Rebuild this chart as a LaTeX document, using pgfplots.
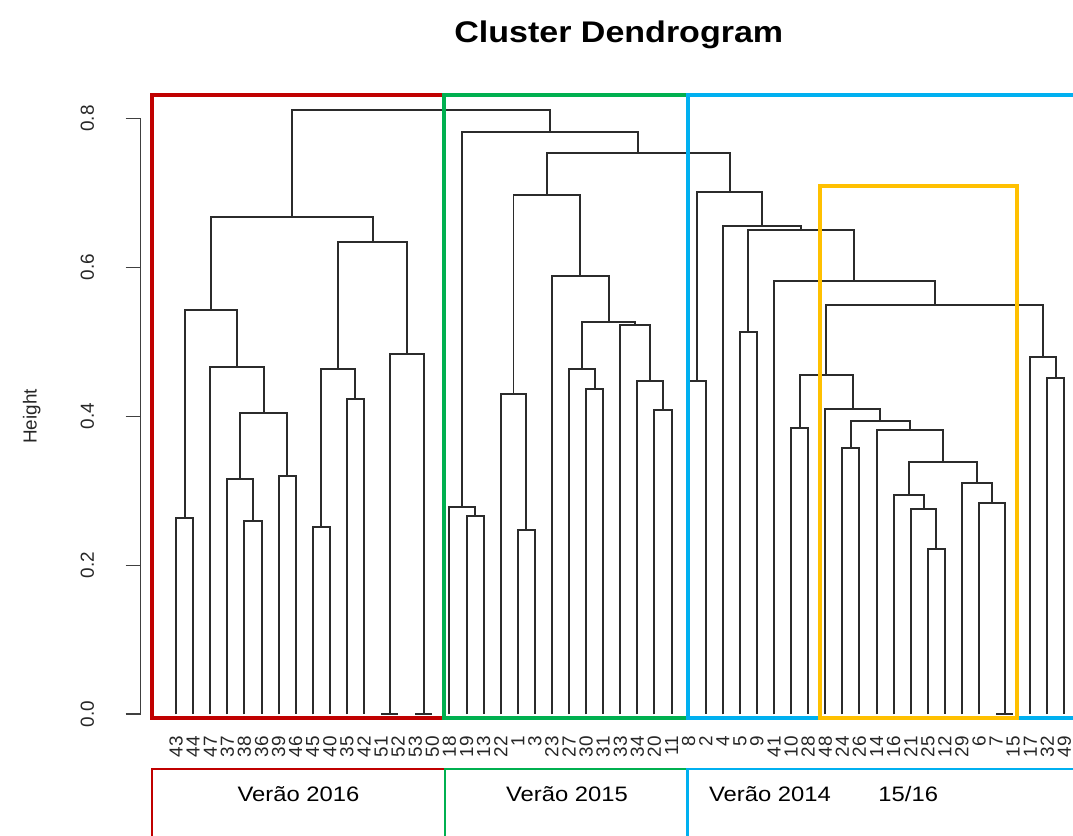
\documentclass[border=0pt]{standalone}
\usepackage{fontspec}
\setmainfont{Liberation Sans}
\newfontfamily\widefont{Liberation Sans}[FakeStretch=1.14]
\usepackage{pgfplots}
\pgfplotsset{compat=1.18}
\usepackage{pgfplotstable}
\definecolor{cred}{HTML}{C00000}
\definecolor{cgreen}{HTML}{00B050}
\definecolor{cblue}{HTML}{00B0F0}
\definecolor{cyellow}{HTML}{FFC000}
\definecolor{tree}{HTML}{2B2B2B}

% merges of the "Verao 2016" cluster (each: 4 corner points, nan = break)
\pgfplotstableread{
x y
1 0
1 0.264
2 0.264
2 0
nan nan
5 0
5 0.259
6 0.259
6 0
nan nan
4 0
4 0.316
5.5 0.316
5.5 0.259
nan nan
7 0
7 0.320
8 0.320
8 0
nan nan
4.75 0.316
4.75 0.405
7.5 0.405
7.5 0.320
nan nan
3 0
3 0.466
6.125 0.466
6.125 0.405
nan nan
1.5 0.264
1.5 0.543
4.5625 0.543
4.5625 0.466
nan nan
9 0
9 0.252
10 0.252
10 0
nan nan
11 0
11 0.423
12 0.423
12 0
nan nan
9.5 0.252
9.5 0.463
11.5 0.463
11.5 0.423
nan nan
13 0
14 0
nan nan
15 0
16 0
nan nan
13.5 0
13.5 0.484
15.5 0.484
15.5 0
nan nan
10.5 0.463
10.5 0.634
14.5 0.634
14.5 0.484
nan nan
3.03125 0.543
3.03125 0.667
12.5 0.667
12.5 0.634
}\redtree

\pgfplotstableread{
x y
18 0
18 0.266
19 0.266
19 0
nan nan
17 0
17 0.278
18.5 0.278
18.5 0.266
nan nan
21 0
21 0.247
22 0.247
22 0
nan nan
20 0
20 0.430
21.5 0.430
21.5 0.247
nan nan
25 0
25 0.437
26 0.437
26 0
nan nan
24 0
24 0.463
25.5 0.463
25.5 0.437
nan nan
29 0
29 0.408
30 0.408
30 0
nan nan
28 0
28 0.448
29.5 0.448
29.5 0.408
nan nan
27 0
27 0.523
28.75 0.523
28.75 0.448
nan nan
24.75 0.463
24.75 0.527
27.875 0.527
27.875 0.523
nan nan
23 0
23 0.589
26.3125 0.589
26.3125 0.527
nan nan
20.75 0.430
20.75 0.697
24.65625 0.697
24.65625 0.589
}\greentree

\pgfplotstableread{
x y
31 0
31 0.448
32 0.448
32 0
nan nan
34 0
34 0.513
35 0.513
35 0
nan nan
37 0
37 0.385
38 0.385
38 0
nan nan
40 0
40 0.358
41 0.358
41 0
nan nan
45 0
45 0.222
46 0.222
46 0
nan nan
44 0
44 0.276
45.5 0.276
45.5 0.222
nan nan
43 0
43 0.295
44.75 0.295
44.75 0.276
nan nan
49 0
50 0
nan nan
48 0
48 0.283
49.5 0.283
49.5 0
nan nan
47 0
47 0.310
48.75 0.310
48.75 0.283
nan nan
43.875 0.295
43.875 0.339
47.875 0.339
47.875 0.310
nan nan
42 0
42 0.382
45.875 0.382
45.875 0.339
nan nan
40.5 0.358
40.5 0.394
43.9375 0.394
43.9375 0.382
nan nan
39 0
39 0.410
42.21875 0.410
42.21875 0.394
nan nan
37.5 0.385
37.5 0.456
40.609375 0.456
40.609375 0.410
nan nan
52 0
52 0.452
53 0.452
53 0
nan nan
51 0
51 0.479
52.5 0.479
52.5 0.452
nan nan
39.0546875 0.456
39.0546875 0.550
51.75 0.550
51.75 0.479
nan nan
36 0
36 0.582
45.40234375 0.582
45.40234375 0.550
nan nan
34.5 0.513
34.5 0.650
40.701171875 0.650
40.701171875 0.582
nan nan
33 0
33 0.656
37.6005859375 0.656
37.6005859375 0.650
nan nan
31.5 0.448
31.5 0.7016
35.30029296875 0.7016
35.30029296875 0.656
}\bluetree

\pgfplotstableread{
x y
22.703125 0.697
22.703125 0.753
33.400146484375 0.753
33.400146484375 0.7016
nan nan
17.75 0.278
17.75 0.782
28.0516357421875 0.782
28.0516357421875 0.753
nan nan
7.765625 0.667
7.765625 0.811
22.90081787109375 0.811
22.90081787109375 0.782
}\toptree

\begin{document}
\begin{tikzpicture}
\begin{axis}[
  scale only axis,
  width=465.85pt, height=299.5pt,
  xmin=-1.079, xmax=53.175, ymin=0, ymax=0.8,
  clip=false,
  axis y line*=left, axis x line*=bottom,
  x axis line style={draw=none},
  y axis line style={line width=0.8pt, black!75},
  xtick={1,...,53},
  xticklabels={43,44,47,37,38,36,39,46,45,40,35,42,51,52,53,50,18,19,13,22,1,3,23,27,30,31,33,34,20,11,8,2,4,5,9,41,10,28,48,24,26,14,16,21,25,12,29,6,7,15,17,32,49},
  x tick style={draw=none},
  ytick={0,0.2,0.4,0.6,0.8},
  yticklabels={0.0,0.2,0.4,0.6,0.8},
  y tick style={line width=0.8pt, black!75},
  tick align=outside, major tick length=7.5pt,
  x tick label style={rotate=90, anchor=east, font=\fontsize{9.5}{10}\selectfont, text=black!85},
  y tick label style={rotate=90, anchor=south, font=\fontsize{9.5}{10}\selectfont, text=black!85},
  yticklabel shift=12.3pt,
  ylabel={Height},
  every axis y label/.style={at={(axis description cs:-0.1173,0.5)}, rotate=90, anchor=center, font=\fontsize{9.5}{10}\selectfont, text=black!85},
  unbounded coords=jump,
]
\addplot[tree, line width=1pt, mark=none] table[x=x, y=y] {\redtree};
\addplot[tree, line width=1pt, mark=none] table[x=x, y=y] {\greentree};
\addplot[tree, line width=1pt, mark=none] table[x=x, y=y] {\bluetree};
\addplot[tree, line width=1pt, mark=none] table[x=x, y=y] {\toptree};

% cluster boxes
\draw[cred, line width=2pt] (axis cs:-0.415,-0.005) rectangle (axis cs:16.708,0.832);
\draw[cgreen, line width=2pt] (axis cs:16.708,-0.005) rectangle (axis cs:30.976,0.832);
\draw[cblue, line width=2pt] (axis cs:53.7,0.832) -- (axis cs:30.976,0.832) -- (axis cs:30.976,-0.005) -- (axis cs:53.7,-0.005);
\draw[cyellow, line width=2pt] (axis cs:38.68,-0.005) rectangle (axis cs:50.196,0.7097);

% season panels below
\draw[cred, line width=1.1pt] (axis cs:-0.40,-0.18) -- (axis cs:-0.40,-0.0735) -- (axis cs:16.72,-0.0735);
\draw[cgreen, line width=1.1pt] (axis cs:16.72,-0.18) -- (axis cs:16.72,-0.0735) -- (axis cs:30.93,-0.0735);
\draw[cblue, line width=1.1pt] (axis cs:30.93,-0.18) -- (axis cs:30.93,-0.0735) -- (axis cs:53.7,-0.0735);
\node[font=\widefont\fontsize{10.5}{12}\selectfont] at (axis cs:8.162,-0.1068) {Verão 2016};
\node[font=\widefont\fontsize{10.5}{12}\selectfont] at (axis cs:23.885,-0.1068) {Verão 2015};
\node[font=\widefont\fontsize{10.5}{12}\selectfont] at (axis cs:35.764,-0.1068) {Verão 2014};
\node[font=\widefont\fontsize{10.5}{12}\selectfont] at (axis cs:43.858,-0.1068) {15/16};

\node[font=\widefont\bfseries\fontsize{15}{18}\selectfont] at (axis cs:26.913,0.9122) {Cluster Dendrogram};

\coordinate (bbll) at (axis cs:-9.307,-0.16294);
\coordinate (bbur) at (axis cs:53.5,0.95893);
\end{axis}
\pgfresetboundingbox
\useasboundingbox (bbll) rectangle (bbur);
\end{tikzpicture}
\end{document}
